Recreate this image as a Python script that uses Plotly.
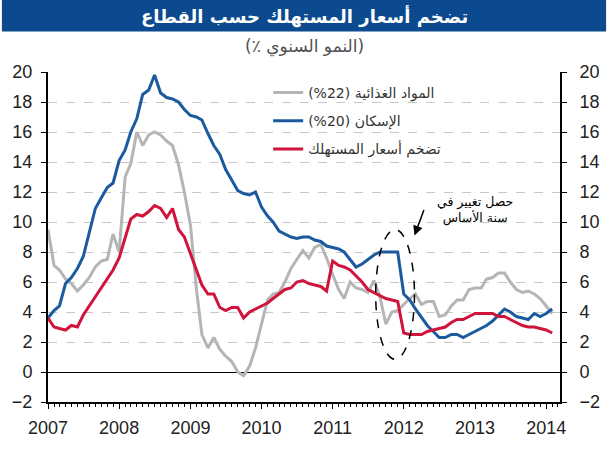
import pandas as pd
import plotly.graph_objects as go

# Monthly data, Jan 2007 - Feb 2014
months = pd.date_range("2007-01-01", periods=86, freq="MS")

food = [9.5, 7.1, 6.8, 6.2, 5.9, 5.4, 5.8, 6.3, 7.0, 7.4, 7.5, 9.2, 8.0, 13.0, 13.9, 16.0,
        15.1, 15.8, 16.0, 15.8, 15.4, 15.1, 13.8, 12.0, 9.8, 5.5, 2.5, 1.6, 2.3, 1.5, 1.05, 0.7,
        0.0, -0.25, 0.4, 1.6, 3.2, 4.8, 5.2, 5.3, 6.0, 6.9, 7.5, 8.1, 7.6, 8.3, 8.5, 7.6,
        6.5, 5.5, 4.9, 6.0, 5.6, 5.5, 5.3, 6.1, 5.0, 3.2, 4.0, 4.1, 4.5, 4.9, 5.2, 4.5,
        4.7, 4.7, 3.7, 3.8, 4.4, 4.8, 4.8, 5.5, 5.6, 5.6, 6.2, 6.3, 6.6, 6.6, 6.0, 5.5,
        5.3, 5.4, 5.2, 4.9, 4.4, 3.9]

housing = [3.6, 4.1, 4.4, 5.9, 6.3, 6.9, 7.7, 9.4, 10.9, 11.6, 12.3, 12.6, 14.1, 14.8, 16.0, 16.9,
           18.5, 18.8, 19.8, 18.6, 18.3, 18.2, 18.0, 17.5, 17.1, 17.0, 16.8, 15.9, 15.1, 14.5, 13.5, 12.8,
           12.1, 11.9, 11.8, 12.0, 11.0, 10.4, 10.0, 9.4, 9.2, 9.0, 8.9, 9.0, 9.0, 8.8, 8.7, 8.4,
           8.3, 8.2, 8.0, 7.5, 7.0, 7.2, 7.5, 7.8, 8.0, 8.0, 8.0, 8.0, 5.2, 4.8, 4.2, 3.6,
           3.1, 2.7, 2.3, 2.3, 2.5, 2.5, 2.3, 2.5, 2.7, 2.9, 3.1, 3.4, 3.8, 4.2, 4.0, 3.7,
           3.6, 3.5, 3.9, 3.7, 3.9, 4.2]

cpi = [3.6, 3.0, 2.9, 2.8, 3.1, 3.0, 3.8, 4.4, 5.0, 5.6, 6.2, 6.8, 7.6, 9.0, 10.2, 10.5,
       10.4, 10.7, 11.1, 10.9, 10.3, 10.9, 9.5, 9.0, 7.9, 6.8, 5.8, 5.2, 5.2, 4.3, 4.1, 4.3,
       4.3, 3.6, 4.0, 4.2, 4.4, 4.6, 4.9, 5.2, 5.5, 5.6, 6.0, 6.1, 5.9, 5.8, 5.7, 5.4,
       7.4, 7.1, 7.0, 6.8, 6.4, 6.0, 5.5, 5.3, 5.1, 4.9, 4.8, 4.7, 2.6, 2.5, 2.5, 2.5,
       2.7, 2.8, 2.9, 3.0, 3.3, 3.5, 3.5, 3.7, 3.9, 3.9, 3.9, 3.9, 3.7, 3.7, 3.5, 3.3,
       3.1, 3.0, 3.0, 2.9, 2.8, 2.6]

RLE, PDF, LRM = "\u202b", "\u202c", "\u200e"
names = [RLE + "المواد الغذائية " + LRM + "(%22)" + PDF,
         RLE + "الإسكان " + LRM + "(%20)" + PDF,
         "تضخم أسعار المستهلك"]
colors = ["#b5b5b5", "#1b5a9f", "#d0143c"]
title_text = "تضخم أسعار المستهلك حسب القطاع"
subtitle_text = RLE + "(النمو السنوي ٪)" + PDF
note_text = "حصل تغيير في<br>سنة الأساس"

Y_RANGE = [-2, 20]
X_RANGE = ["2007-01-01", "2014-03-13"]

fig = go.Figure()
for i, (ser, nm, col) in enumerate(zip([food, housing, cpi], names, colors)):
    fig.add_trace(go.Scatter(x=months, y=ser, mode="lines", name=nm,
                             line=dict(color=col, width=3), legendgroup=f"g{i}"))
# invisible trace to carry right axis
fig.add_trace(go.Scatter(x=months, y=cpi, mode="lines", yaxis="y2", showlegend=False,
                         line=dict(color="rgba(0,0,0,0)", width=0), hoverinfo="skip"))

tickfont = dict(family="Liberation Sans, Arial, sans-serif", size=18, color="#222")

fig.update_layout(
    width=612, height=450,
    margin=dict(l=44, r=45, t=72, b=43),
    paper_bgcolor="white", plot_bgcolor="white",
    showlegend=True,
    legend=dict(x=0.43, y=0.985, xanchor="left", yanchor="top",
                bgcolor="rgba(0,0,0,0)", tracegroupgap=7,
                font=dict(family="DejaVu Sans, sans-serif", size=14, color="#333")),
    xaxis=dict(type="date", range=X_RANGE, tick0="2007-01-01", dtick="M12", tickformat="%Y",
               ticks="outside", ticklen=5, tickcolor="black", showline=True, linecolor="black",
               linewidth=1.5, showgrid=False, zeroline=False, tickfont=tickfont,
               ticklabelstandoff=4,
               minor=dict(dtick="M1", ticks="outside", ticklen=3, tickcolor="black")),
    yaxis=dict(range=Y_RANGE, dtick=2, tick0=0, ticks="outside", ticklen=5, tickcolor="black",
               showline=True, linecolor="black", linewidth=2, showgrid=True,
               gridcolor="#c8c8c8", griddash="dash", gridwidth=1, ticklabelstandoff=5,
               zeroline=True, zerolinecolor="black", zerolinewidth=1.2, tickfont=tickfont),
    yaxis2=dict(range=Y_RANGE, dtick=2, tick0=0, overlaying="y", side="right", ticks="outside",
                ticklen=5, tickcolor="black", showline=True, linecolor="black", linewidth=2,
                showgrid=False, zeroline=False, tickfont=tickfont, ticklabelstandoff=9),
)

# title banner
fig.add_shape(type="rect", xref="paper", yref="paper", x0=-0.09, x1=1.09,
              y0=1 + (72 - 31) / 335, y1=1 + 72 / 335 + 0.01,
              fillcolor="#0b4a8e", line=dict(width=0), layer="below")
fig.add_annotation(xref="paper", yref="paper", x=0.5, y=1 + (72 - 16) / 335,
                   xanchor="center", yanchor="middle",
                   text=f"<b>{title_text}</b>", showarrow=False,
                   font=dict(family="DejaVu Sans, sans-serif", size=18, color="white"))
fig.add_annotation(xref="paper", yref="paper", x=0.5, y=1 + (72 - 46) / 335,
                   xanchor="center", yanchor="middle",
                   text=subtitle_text, showarrow=False,
                   font=dict(family="DejaVu Sans, sans-serif", size=17, color="#505050"))

# base-year change ellipse and note
fig.add_shape(type="circle", xref="x", yref="y",
              x0="2011-08-10", x1="2012-02-25", y0=0.85, y1=9.5,
              line=dict(color="black", width=1.5, dash="dash"))
fig.add_annotation(xref="x", yref="y", x="2012-02-25", y=9.1, ax=10, ay=-27,
                   text="", showarrow=True, arrowhead=2, arrowsize=1.3, arrowwidth=1.5,
                   arrowcolor="black")
fig.add_annotation(xref="x", yref="y", x="2013-01-01", y=10.8,
                   xanchor="center", yanchor="middle",
                   text=note_text, showarrow=False,
                   font=dict(family="DejaVu Sans, sans-serif", size=12.5, color="black"))

fig.write_html("out.html")
